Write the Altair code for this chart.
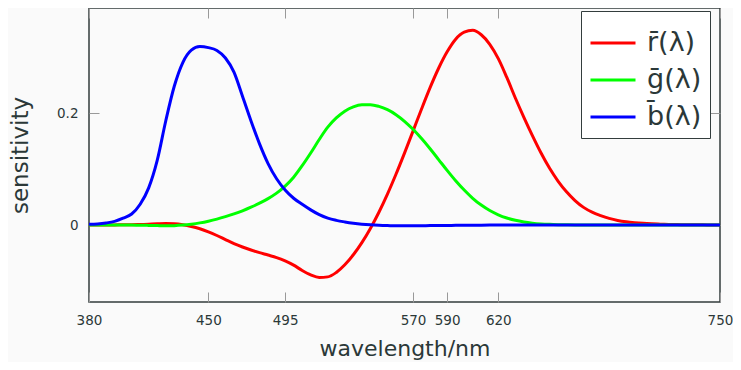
import altair as alt
import pandas as pd

wavelength = list(range(380, 755, 5))
r_bar = [0.00003, 0.00005, 0.00010, 0.00017, 0.00030, 0.00047, 0.00084, 0.00139, 0.00211, 0.00266,
         0.00218, 0.00036, -0.00261, -0.00673, -0.01213, -0.01874, -0.02608, -0.03324, -0.03933, -0.04471,
         -0.04939, -0.05364, -0.05814, -0.06414, -0.07173, -0.08120, -0.08901, -0.09356, -0.09264, -0.08473,
         -0.07101, -0.05316, -0.03152, -0.00613, 0.02279, 0.05514, 0.09060, 0.12840, 0.16768, 0.20715,
         0.24526, 0.27989, 0.30928, 0.33184, 0.34429, 0.34756, 0.33971, 0.32265, 0.29708, 0.26348,
         0.22677, 0.19233, 0.15968, 0.12905, 0.10167, 0.07857, 0.05932, 0.04366, 0.03149, 0.02294,
         0.01687, 0.01187, 0.00819, 0.00572, 0.00410, 0.00291, 0.00210, 0.00148, 0.00105, 0.00074,
         0.00052, 0.00036, 0.00025, 0.00017, 0.00012]
g_bar = [-0.00001, -0.00002, -0.00004, -0.00007, -0.00014, -0.00022, -0.00041, -0.00070, -0.00110, -0.00143,
         -0.00119, -0.00021, 0.00149, 0.00379, 0.00678, 0.01046, 0.01485, 0.01977, 0.02538, 0.03183,
         0.03914, 0.04713, 0.05689, 0.06948, 0.08536, 0.10593, 0.12860, 0.15262, 0.17468, 0.19113,
         0.20317, 0.21083, 0.21466, 0.21487, 0.21178, 0.20588, 0.19702, 0.18522, 0.17087, 0.15429,
         0.13610, 0.11686, 0.09754, 0.07909, 0.06246, 0.04776, 0.03557, 0.02583, 0.01828, 0.01253,
         0.00833, 0.00537, 0.00334, 0.00199, 0.00116, 0.00066, 0.00037, 0.00021, 0.00011, 0.00006,
         0.00003, 0.00001, 0.0, 0.0, 0.0, 0.0, 0.0, 0.0, 0.0, 0.0,
         0.0, 0.0, 0.0, 0.0, 0.0]
b_bar = [0.00117, 0.00189, 0.00359, 0.00647, 0.01214, 0.01969, 0.03707, 0.06637, 0.11541, 0.18575,
         0.24769, 0.29012, 0.31228, 0.31860, 0.31670, 0.31166, 0.29821, 0.27295, 0.22991, 0.18592,
         0.14494, 0.10968, 0.08257, 0.06246, 0.04776, 0.03688, 0.02698, 0.01842, 0.01221, 0.00830,
         0.00549, 0.00320, 0.00146, 0.00023, -0.00058, -0.00105, -0.00130, -0.00138, -0.00135, -0.00123,
         -0.00108, -0.00093, -0.00079, -0.00063, -0.00049, -0.00038, -0.00030, -0.00022, -0.00015, -0.00011,
         -0.00008, -0.00005, -0.00003, -0.00002, -0.00001, -0.00001, 0.0, 0.0, 0.0, 0.0,
         0.0, 0.0, 0.0, 0.0, 0.0, 0.0, 0.0, 0.0, 0.0, 0.0,
         0.0, 0.0, 0.0, 0.0, 0.0]

series_names = ["r\u0304(\u03bb)", "g\u0304(\u03bb)", "b\u0304(\u03bb)"]
series_colors = ["#ff0000", "#00ff00", "#0000ff"]
x_ticks = [380, 450, 495, 570, 590, 620, 750]
y_ticks = [0, 0.2]

rows = []
for k, (name, vals) in enumerate(zip(series_names, [r_bar, g_bar, b_bar])):
    for w, v in zip(wavelength, vals):
        rows.append({"wavelength": w, "value": v, "series": name, "k": k})
df = pd.DataFrame(rows)

TXT = "#2b3838"
FONT = "DejaVu Sans"
xscale = alt.Scale(domain=[380, 750], nice=False, zero=False)
yscale = alt.Scale(domain=[-0.1375, 0.3875], nice=False, zero=False)

lines = alt.Chart(df).mark_line(strokeWidth=3, interpolate="monotone").encode(
    x=alt.X("wavelength:Q", scale=xscale,
            axis=alt.Axis(orient="bottom", values=x_ticks, offset=-10, domain=False, grid=False,
                          tickSize=10, tickColor="#999999", tickWidth=1, labelPadding=11,
                          labelFlush=False,
                          labelFont=FONT, labelFontSize=13.5, labelColor=TXT,
                          title="wavelength/nm", titleFont=FONT, titleFontSize=22,
                          titleFontWeight="normal", titleColor=TXT, titlePadding=12)),
    y=alt.Y("value:Q", scale=yscale,
            axis=alt.Axis(orient="left", values=y_ticks, format="~g", offset=-10, domain=False,
                          grid=False, tickSize=10, tickColor="#999999", tickWidth=1, labelPadding=11,
                          labelFlush=False,
                          labelFont=FONT, labelFontSize=13.5, labelColor=TXT,
                          title="sensitivity", titleFont=FONT, titleFontSize=23,
                          titleFontWeight="normal", titleColor=TXT, titlePadding=24)),
    color=alt.Color("series:N", sort=series_names,
                    scale=alt.Scale(domain=series_names, range=series_colors),
                    legend=alt.Legend(orient="none", legendX=492, legendY=3, title=None,
                                      symbolType="stroke", symbolSize=2025, symbolStrokeWidth=3,
                                      labelFont=FONT, labelFontSize=27, labelColor=TXT,
                                      labelOffset=10, padding=8, rowPadding=0,
                                      fillColor="#ffffff", strokeColor="#333d3d")),
    order=alt.Order("k:Q"),
)

frame = alt.Chart(df).mark_point(opacity=0).encode(
    x=alt.X("wavelength:Q", scale=xscale,
            axis=alt.Axis(orient="top", values=x_ticks, offset=-10, domain=False, grid=False,
                          labels=False, tickSize=10, tickColor="#999999", tickWidth=1, title=None)),
    y=alt.Y("value:Q", scale=yscale,
            axis=alt.Axis(orient="right", values=y_ticks, offset=-10, domain=False, grid=False,
                          labels=False, tickSize=10, tickColor="#999999", tickWidth=1, title=None)),
)

chart = alt.layer(lines, frame).resolve_axis(x="independent", y="independent").properties(
    width=631, height=294,
    autosize=alt.AutoSizeParams(type="none"),
    padding={"left": 81, "top": 0, "right": 13, "bottom": 60},
    background="#fafafa",
).configure_view(stroke="#333d3d", strokeWidth=1.5)

chart.save("out.html", embed_options={"renderer": "svg", "actions": False})
